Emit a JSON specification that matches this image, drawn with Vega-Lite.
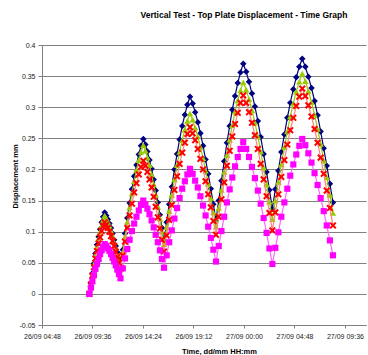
{
"$schema":"https://vega.github.io/schema/vega-lite/v6.json",
"width":324,"height":280,
"autosize":{"type":"none"},
"padding":{"left":42,"top":45,"right":2,"bottom":30},
"background":"white",
"title":{"text":"Vertical Test - Top Plate Displacement - Time Graph","font":"Liberation Sans","fontSize":8.5,"fontWeight":"bold","color":"#000000","dx":40,"offset":22},
"config":{"view":{"stroke":null},
"axis":{"domainColor":"#808080","tickColor":"#808080","labelColor":"#222222","labelFont":"Liberation Sans","labelFontSize":7,"titleFont":"Liberation Sans","titleFontSize":7.5,"titleFontWeight":"bold","titleColor":"#000000","gridColor":"#808080","gridOpacity":1,"tickSize":3,"labelOverlap":false,"labelFlush":false}},
"datasets":{
"A":[{"t":9.3,"v":0},{"t":9.45,"v":0.017},{"t":9.59,"v":0.033},{"t":9.74,"v":0.049},{"t":9.88,"v":0.065},{"t":10.03,"v":0.079},{"t":10.18,"v":0.092},{"t":10.32,"v":0.104},{"t":10.47,"v":0.115},{"t":10.61,"v":0.124},{"t":10.76,"v":0.131},
{"t":10.91,"v":0.126},{"t":11.06,"v":0.12},{"t":11.21,"v":0.113},{"t":11.36,"v":0.106},{"t":11.51,"v":0.097},{"t":11.66,"v":0.087},{"t":11.81,"v":0.077},{"t":11.96,"v":0.067},{"t":12.11,"v":0.056},{"t":12.26,"v":0.045},
{"t":12.48,"v":0.071},{"t":12.69,"v":0.097},{"t":12.91,"v":0.122},{"t":13.13,"v":0.146},{"t":13.35,"v":0.168},{"t":13.56,"v":0.189},{"t":13.78,"v":0.207},{"t":14.0,"v":0.224},{"t":14.21,"v":0.238},{"t":14.43,"v":0.249},
{"t":14.63,"v":0.24},{"t":14.82,"v":0.229},{"t":15.02,"v":0.215},{"t":15.22,"v":0.201},{"t":15.42,"v":0.184},{"t":15.61,"v":0.166},{"t":15.81,"v":0.147},{"t":16.01,"v":0.127},{"t":16.2,"v":0.106},{"t":16.4,"v":0.085},
{"t":16.65,"v":0.115},{"t":16.89,"v":0.144},{"t":17.14,"v":0.172},{"t":17.39,"v":0.2},{"t":17.64,"v":0.225},{"t":17.88,"v":0.248},{"t":18.13,"v":0.27},{"t":18.38,"v":0.288},{"t":18.62,"v":0.304},{"t":18.87,"v":0.317},
{"t":19.12,"v":0.306},{"t":19.36,"v":0.292},{"t":19.61,"v":0.276},{"t":19.86,"v":0.258},{"t":20.11,"v":0.238},{"t":20.35,"v":0.216},{"t":20.6,"v":0.193},{"t":20.85,"v":0.169},{"t":21.09,"v":0.144},{"t":21.34,"v":0.118},
{"t":21.6,"v":0.15},{"t":21.86,"v":0.182},{"t":22.12,"v":0.213},{"t":22.38,"v":0.243},{"t":22.64,"v":0.27},{"t":22.89,"v":0.296},{"t":23.15,"v":0.318},{"t":23.41,"v":0.339},{"t":23.67,"v":0.356},{"t":23.93,"v":0.37},
{"t":24.21,"v":0.357},{"t":24.48,"v":0.341},{"t":24.76,"v":0.322},{"t":25.04,"v":0.301},{"t":25.32,"v":0.278},{"t":25.59,"v":0.252},{"t":25.87,"v":0.225},{"t":26.15,"v":0.196},{"t":26.42,"v":0.167},{"t":26.7,"v":0.137},
{"t":26.98,"v":0.168},{"t":27.27,"v":0.198},{"t":27.55,"v":0.228},{"t":27.84,"v":0.256},{"t":28.12,"v":0.283},{"t":28.4,"v":0.307},{"t":28.69,"v":0.329},{"t":28.97,"v":0.348},{"t":29.26,"v":0.365},{"t":29.54,"v":0.378},
{"t":29.83,"v":0.365},{"t":30.12,"v":0.349},{"t":30.42,"v":0.331},{"t":30.71,"v":0.31},{"t":31.0,"v":0.287},{"t":31.29,"v":0.261},{"t":31.58,"v":0.234},{"t":31.87,"v":0.206},{"t":32.17,"v":0.177},{"t":32.46,"v":0.147}],
"B":[{"t":9.3,"v":0},{"t":9.45,"v":0.016},{"t":9.59,"v":0.032},{"t":9.74,"v":0.048},{"t":9.88,"v":0.062},{"t":10.03,"v":0.076},{"t":10.18,"v":0.089},{"t":10.32,"v":0.1},{"t":10.47,"v":0.11},{"t":10.61,"v":0.119},{"t":10.76,"v":0.126},
{"t":10.91,"v":0.121},{"t":11.06,"v":0.116},{"t":11.21,"v":0.109},{"t":11.36,"v":0.101},{"t":11.51,"v":0.093},{"t":11.66,"v":0.083},{"t":11.81,"v":0.074},{"t":11.96,"v":0.063},{"t":12.11,"v":0.053},{"t":12.26,"v":0.042},
{"t":12.48,"v":0.067},{"t":12.69,"v":0.092},{"t":12.91,"v":0.116},{"t":13.13,"v":0.139},{"t":13.35,"v":0.161},{"t":13.56,"v":0.181},{"t":13.78,"v":0.199},{"t":14.0,"v":0.215},{"t":14.21,"v":0.228},{"t":14.43,"v":0.239},
{"t":14.63,"v":0.23},{"t":14.82,"v":0.219},{"t":15.02,"v":0.207},{"t":15.22,"v":0.192},{"t":15.42,"v":0.176},{"t":15.61,"v":0.159},{"t":15.81,"v":0.14},{"t":16.01,"v":0.121},{"t":16.2,"v":0.1},{"t":16.4,"v":0.08},
{"t":16.65,"v":0.107},{"t":16.89,"v":0.133},{"t":17.14,"v":0.159},{"t":17.39,"v":0.184},{"t":17.64,"v":0.207},{"t":17.88,"v":0.228},{"t":18.13,"v":0.247},{"t":18.38,"v":0.264},{"t":18.62,"v":0.278},{"t":18.87,"v":0.29},
{"t":19.12,"v":0.28},{"t":19.36,"v":0.267},{"t":19.61,"v":0.253},{"t":19.86,"v":0.236},{"t":20.11,"v":0.218},{"t":20.35,"v":0.198},{"t":20.6,"v":0.177},{"t":20.85,"v":0.154},{"t":21.09,"v":0.131},{"t":21.34,"v":0.108},
{"t":21.6,"v":0.138},{"t":21.86,"v":0.167},{"t":22.12,"v":0.196},{"t":22.38,"v":0.223},{"t":22.64,"v":0.248},{"t":22.89,"v":0.271},{"t":23.15,"v":0.293},{"t":23.41,"v":0.311},{"t":23.67,"v":0.327},{"t":23.93,"v":0.34},
{"t":24.21,"v":0.328},{"t":24.48,"v":0.313},{"t":24.76,"v":0.295},{"t":25.04,"v":0.275},{"t":25.32,"v":0.253},{"t":25.59,"v":0.229},{"t":25.87,"v":0.203},{"t":26.15,"v":0.176},{"t":26.42,"v":0.148},{"t":26.7,"v":0.12},
{"t":26.98,"v":0.15},{"t":27.27,"v":0.18},{"t":27.55,"v":0.208},{"t":27.84,"v":0.236},{"t":28.12,"v":0.261},{"t":28.4,"v":0.285},{"t":28.69,"v":0.306},{"t":28.97,"v":0.325},{"t":29.26,"v":0.341},{"t":29.54,"v":0.354},
{"t":29.83,"v":0.342},{"t":30.12,"v":0.326},{"t":30.42,"v":0.308},{"t":30.71,"v":0.288},{"t":31.0,"v":0.265},{"t":31.29,"v":0.241},{"t":31.58,"v":0.214},{"t":31.87,"v":0.187},{"t":32.17,"v":0.159},{"t":32.46,"v":0.13}],
"C":[{"t":9.3,"v":0},{"t":9.45,"v":0.015},{"t":9.59,"v":0.029},{"t":9.74,"v":0.043},{"t":9.88,"v":0.057},{"t":10.03,"v":0.069},{"t":10.18,"v":0.081},{"t":10.32,"v":0.091},{"t":10.47,"v":0.101},{"t":10.61,"v":0.109},{"t":10.76,"v":0.115},
{"t":10.91,"v":0.111},{"t":11.06,"v":0.106},{"t":11.21,"v":0.1},{"t":11.36,"v":0.093},{"t":11.51,"v":0.085},{"t":11.66,"v":0.077},{"t":11.81,"v":0.068},{"t":11.96,"v":0.059},{"t":12.11,"v":0.05},{"t":12.26,"v":0.04},
{"t":12.48,"v":0.062},{"t":12.69,"v":0.084},{"t":12.91,"v":0.106},{"t":13.13,"v":0.126},{"t":13.35,"v":0.145},{"t":13.56,"v":0.163},{"t":13.78,"v":0.178},{"t":14.0,"v":0.192},{"t":14.21,"v":0.204},{"t":14.43,"v":0.214},
{"t":14.63,"v":0.206},{"t":14.82,"v":0.196},{"t":15.02,"v":0.184},{"t":15.22,"v":0.171},{"t":15.42,"v":0.156},{"t":15.61,"v":0.14},{"t":15.81,"v":0.123},{"t":16.01,"v":0.105},{"t":16.2,"v":0.087},{"t":16.4,"v":0.068},
{"t":16.65,"v":0.094},{"t":16.89,"v":0.119},{"t":17.14,"v":0.143},{"t":17.39,"v":0.167},{"t":17.64,"v":0.189},{"t":17.88,"v":0.209},{"t":18.13,"v":0.227},{"t":18.38,"v":0.243},{"t":18.62,"v":0.257},{"t":18.87,"v":0.268},
{"t":19.12,"v":0.258},{"t":19.36,"v":0.247},{"t":19.61,"v":0.233},{"t":19.86,"v":0.217},{"t":20.11,"v":0.2},{"t":20.35,"v":0.181},{"t":20.6,"v":0.16},{"t":20.85,"v":0.139},{"t":21.09,"v":0.117},{"t":21.34,"v":0.095},
{"t":21.6,"v":0.124},{"t":21.86,"v":0.152},{"t":22.12,"v":0.179},{"t":22.38,"v":0.206},{"t":22.64,"v":0.23},{"t":22.89,"v":0.253},{"t":23.15,"v":0.273},{"t":23.41,"v":0.291},{"t":23.67,"v":0.307},{"t":23.93,"v":0.319},
{"t":24.21,"v":0.307},{"t":24.48,"v":0.292},{"t":24.76,"v":0.275},{"t":25.04,"v":0.255},{"t":25.32,"v":0.233},{"t":25.59,"v":0.209},{"t":25.87,"v":0.184},{"t":26.15,"v":0.157},{"t":26.42,"v":0.13},{"t":26.7,"v":0.102},
{"t":26.98,"v":0.131},{"t":27.27,"v":0.16},{"t":27.55,"v":0.188},{"t":27.84,"v":0.215},{"t":28.12,"v":0.24},{"t":28.4,"v":0.263},{"t":28.69,"v":0.283},{"t":28.97,"v":0.302},{"t":29.26,"v":0.317},{"t":29.54,"v":0.33},
{"t":29.83,"v":0.318},{"t":30.12,"v":0.303},{"t":30.42,"v":0.285},{"t":30.71,"v":0.265},{"t":31.0,"v":0.243},{"t":31.29,"v":0.219},{"t":31.58,"v":0.193},{"t":31.87,"v":0.166},{"t":32.17,"v":0.138},{"t":32.46,"v":0.11}],
"D":[{"t":9.3,"v":0},{"t":9.45,"v":0.01},{"t":9.59,"v":0.02},{"t":9.74,"v":0.03},{"t":9.88,"v":0.04},{"t":10.03,"v":0.048},{"t":10.18,"v":0.056},{"t":10.32,"v":0.064},{"t":10.47,"v":0.07},{"t":10.61,"v":0.076},{"t":10.76,"v":0.08},
{"t":10.91,"v":0.077},{"t":11.06,"v":0.073},{"t":11.21,"v":0.069},{"t":11.36,"v":0.064},{"t":11.51,"v":0.058},{"t":11.66,"v":0.052},{"t":11.81,"v":0.046},{"t":11.96,"v":0.039},{"t":12.11,"v":0.032},{"t":12.26,"v":0.025},
{"t":12.48,"v":0.041},{"t":12.69,"v":0.057},{"t":12.91,"v":0.072},{"t":13.13,"v":0.087},{"t":13.35,"v":0.101},{"t":13.56,"v":0.113},{"t":13.78,"v":0.124},{"t":14.0,"v":0.134},{"t":14.21,"v":0.143},{"t":14.43,"v":0.15},
{"t":14.63,"v":0.144},{"t":14.82,"v":0.137},{"t":15.02,"v":0.128},{"t":15.22,"v":0.118},{"t":15.42,"v":0.107},{"t":15.61,"v":0.095},{"t":15.81,"v":0.083},{"t":16.01,"v":0.07},{"t":16.2,"v":0.056},{"t":16.4,"v":0.042},
{"t":16.65,"v":0.062},{"t":16.89,"v":0.083},{"t":17.14,"v":0.102},{"t":17.39,"v":0.121},{"t":17.64,"v":0.138},{"t":17.88,"v":0.154},{"t":18.13,"v":0.169},{"t":18.38,"v":0.181},{"t":18.62,"v":0.192},{"t":18.87,"v":0.201},
{"t":19.12,"v":0.193},{"t":19.36,"v":0.182},{"t":19.61,"v":0.171},{"t":19.86,"v":0.157},{"t":20.11,"v":0.142},{"t":20.35,"v":0.126},{"t":20.6,"v":0.108},{"t":20.85,"v":0.09},{"t":21.09,"v":0.071},{"t":21.34,"v":0.052},
{"t":21.6,"v":0.077},{"t":21.86,"v":0.101},{"t":22.12,"v":0.124},{"t":22.38,"v":0.147},{"t":22.64,"v":0.168},{"t":22.89,"v":0.187},{"t":23.15,"v":0.205},{"t":23.41,"v":0.22},{"t":23.67,"v":0.233},{"t":23.93,"v":0.244},
{"t":24.21,"v":0.233},{"t":24.48,"v":0.22},{"t":24.76,"v":0.204},{"t":25.04,"v":0.186},{"t":25.32,"v":0.166},{"t":25.59,"v":0.145},{"t":25.87,"v":0.122},{"t":26.15,"v":0.098},{"t":26.42,"v":0.073},{"t":26.7,"v":0.048},
{"t":26.98,"v":0.074},{"t":27.27,"v":0.099},{"t":27.55,"v":0.124},{"t":27.84,"v":0.147},{"t":28.12,"v":0.169},{"t":28.4,"v":0.19},{"t":28.69,"v":0.208},{"t":28.97,"v":0.224},{"t":29.26,"v":0.238},{"t":29.54,"v":0.249},
{"t":29.83,"v":0.239},{"t":30.12,"v":0.226},{"t":30.42,"v":0.211},{"t":30.71,"v":0.194},{"t":31.0,"v":0.175},{"t":31.29,"v":0.154},{"t":31.58,"v":0.133},{"t":31.87,"v":0.11},{"t":32.17,"v":0.086},{"t":32.46,"v":0.062}]
},
"encoding":{
"x":{"field":"t","type":"quantitative","scale":{"domain":[4.8,35.6],"nice":false,"zero":false},
"axis":{"values":[4.8,9.6,14.4,19.2,24,28.8,33.6],"grid":false,"labelPadding":4,"title":"Time, dd/mm HH:mm","titleX":177,"titleY":26,"titleBaseline":"middle","titleAlign":"center",
"labelExpr":"(datum.value < 24 ? '26/09 ' : '27/09 ') + (floor(datum.value % 24) < 10 ? '0' : '') + floor(datum.value % 24) + ':' + (round((datum.value % 1) * 60) < 10 ? '0' : '') + round((datum.value % 1) * 60)"}},
"y":{"field":"v","type":"quantitative","scale":{"domain":[-0.05,0.4],"nice":false,"zero":false},
"axis":{"values":[-0.05,0,0.05,0.1,0.15,0.2,0.25,0.3,0.35,0.4],"grid":true,"tickSize":4,"labelPadding":3,"title":"Displacement mm","titleX":-27,"titleY":131,"titleAngle":-90,"titleBaseline":"middle","titleAlign":"center",
"labelExpr":"replace(format(datum.value, '.2~f'), '\u2212', '-')"}}
},
"layer":[
{"data":{"name":"A"},"mark":{"type":"line","color":"#000080","strokeWidth":1.2,"point":{"shape":"diamond","filled":true,"size":42,"color":"#000080"}}},
{"data":{"name":"B"},"mark":{"type":"line","color":"#99cc00","strokeWidth":1.2,"point":{"shape":"triangle-up","filled":true,"size":42,"color":"#99cc00"}}},
{"data":{"name":"C"},"mark":{"type":"line","color":"#ff8080","strokeWidth":1.2,"point":{"shape":"M-1,-0.6L-0.6,-1L0,-0.4L0.6,-1L1,-0.6L0.4,0L1,0.6L0.6,1L0,0.4L-0.6,1L-1,0.6L-0.4,0Z","filled":true,"size":50,"color":"#ff0000"}}},
{"data":{"name":"D"},"mark":{"type":"line","color":"#ff66ff","strokeWidth":1.2,"point":{"shape":"square","filled":true,"size":38,"color":"#ff00ff"}}}
]
}
